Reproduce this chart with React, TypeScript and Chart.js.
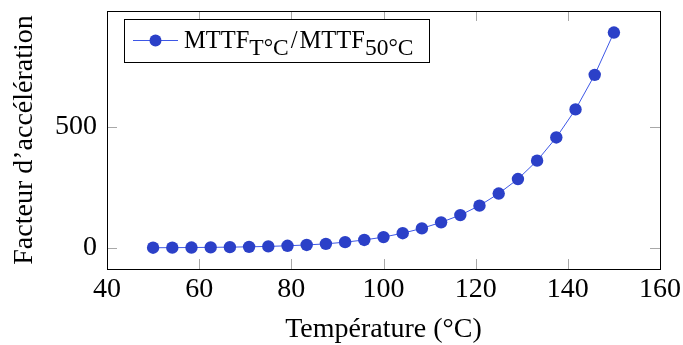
import { useEffect, useRef } from "react";
import { Chart, registerables } from "chart.js";

Chart.register(...registerables);

// ---- data ----
const temperatures = [
  50, 54.17, 58.33, 62.5, 66.67, 70.83, 75, 79.17, 83.33, 87.5, 91.67, 95.83,
  100, 104.17, 108.33, 112.5, 116.67, 120.83, 125, 129.17, 133.33, 137.5,
  141.67, 145.83, 150,
];
const accelFactor = [
  1, 1.3, 1.8, 2.5, 3.4, 4.7, 6.5, 9, 12.5, 17, 24, 33, 45, 61, 81, 106, 136,
  175, 225, 285, 361, 457, 573, 716, 891,
];
const xTicks = [40, 60, 80, 100, 120, 140, 160];
const yTicks = [0, 500];
const xTitle = "Température (°C)";
const yTitle = "Facteur d’accélération";
const legendParts = [
  { text: "MTTF", sub: false, gap: 0 },
  { text: "T°C", sub: true, gap: 2 },
  { text: "/", sub: false, gap: 2 },
  { text: "MTTF", sub: false, gap: 0 },
  { text: "50°C", sub: true, gap: 0 },
];

const FONT = "'Liberation Serif', 'Times New Roman', serif";
const LINE_COLOR = "#3d57e6";
const POINT_COLOR = "#2b40c8";
const TICK_COLOR = "#a8a8a8";

const framePlugin = {
  id: "pgfFrame",
  beforeDatasetsDraw(chart: any) {
    const { ctx, chartArea: a, scales } = chart;
    ctx.save();
    ctx.strokeStyle = TICK_COLOR;
    ctx.lineWidth = 1;
    const len = 10;
    scales.x.ticks.forEach((t: any) => {
      const px = Math.round(scales.x.getPixelForValue(t.value)) + 0.5;
      ctx.beginPath();
      ctx.moveTo(px, a.bottom);
      ctx.lineTo(px, a.bottom - len);
      ctx.moveTo(px, a.top);
      ctx.lineTo(px, a.top + len);
      ctx.stroke();
    });
    scales.y.ticks.forEach((t: any) => {
      const py = Math.round(scales.y.getPixelForValue(t.value)) + 0.5;
      ctx.beginPath();
      ctx.moveTo(a.left, py);
      ctx.lineTo(a.left + len, py);
      ctx.moveTo(a.right, py);
      ctx.lineTo(a.right - len, py);
      ctx.stroke();
    });
    ctx.strokeStyle = "#000";
    ctx.strokeRect(
      Math.round(a.left) + 0.5,
      Math.round(a.top) + 0.5,
      Math.round(a.right - a.left),
      Math.round(a.bottom - a.top)
    );
    ctx.restore();
  },
  afterDraw(chart: any) {
    const { ctx, chartArea: a } = chart;
    const bx = Math.round(a.left) + 17;
    const by = Math.round(a.top) + 8;
    const bw = 305;
    const bh = 43;
    ctx.save();
    ctx.fillStyle = "#fff";
    ctx.fillRect(bx, by, bw, bh);
    ctx.strokeStyle = "#000";
    ctx.lineWidth = 1;
    ctx.strokeRect(bx + 0.5, by + 0.5, bw, bh);
    const cy = by + 21.5;
    ctx.strokeStyle = LINE_COLOR;
    ctx.beginPath();
    ctx.moveTo(bx + 9, cy);
    ctx.lineTo(bx + 54, cy);
    ctx.stroke();
    ctx.fillStyle = POINT_COLOR;
    ctx.beginPath();
    ctx.arc(bx + 31.5, cy, 6, 0, Math.PI * 2);
    ctx.fill();
    let x = bx + 60;
    const baseline = by + 29;
    ctx.fillStyle = "#000";
    ctx.textBaseline = "alphabetic";
    ctx.textAlign = "left";
    legendParts.forEach((p) => {
      ctx.font = p.sub ? `23.5px ${FONT}` : `24.5px ${FONT}`;
      ctx.fillText(p.text, x, p.sub ? baseline + 7 : baseline);
      x += ctx.measureText(p.text).width + p.gap;
    });
    ctx.restore();
  },
};

export default function App() {
  const ref = useRef<HTMLCanvasElement | null>(null);
  useEffect(() => {
    if (!ref.current) return;
    const chart = new Chart(ref.current, {
      type: "line",
      data: {
        datasets: [
          {
            label: "MTTF",
            data: temperatures.map((t, i) => ({ x: t, y: accelFactor[i] })),
            borderColor: LINE_COLOR,
            borderWidth: 1,
            backgroundColor: POINT_COLOR,
            pointBackgroundColor: POINT_COLOR,
            pointBorderColor: POINT_COLOR,
            pointBorderWidth: 0,
            pointRadius: 6.2,
            tension: 0,
          },
        ],
      },
      options: {
        animation: false,
        responsive: false,
        devicePixelRatio: 1,
        layout: { padding: { left: 0, right: 23, top: 11, bottom: 0 } },
        plugins: { legend: { display: false }, tooltip: { enabled: false } },
        scales: {
          x: {
            type: "linear",
            min: 40,
            max: 160,
            afterBuildTicks: (s: any) => {
              s.ticks = xTicks.map((v) => ({ value: v }));
            },
            afterFit: (s: any) => {
              s.height = 76;
              s.paddingLeft = 0;
              s.paddingRight = 0;
            },
            grid: { display: false, drawTicks: false },
            border: { display: false },
            ticks: {
              color: "#000",
              padding: 4,
              maxRotation: 0,
              font: { family: FONT, size: 28, lineHeight: 1.2 },
            },
            title: {
              display: true,
              text: xTitle,
              color: "#000",
              font: { family: FONT, size: 28, lineHeight: 1.1 },
              padding: { top: 1, bottom: 0 },
            },
          },
          y: {
            type: "linear",
            min: -87,
            max: 980,
            afterBuildTicks: (s: any) => {
              s.ticks = yTicks.map((v) => ({ value: v }));
            },
            afterFit: (s: any) => {
              s.width = 107;
              s.paddingTop = 0;
              s.paddingBottom = 0;
            },
            grid: { display: false, drawTicks: false },
            border: { display: false },
            ticks: {
              color: "#000",
              padding: 10,
              font: { family: FONT, size: 28 },
            },
            title: {
              display: true,
              text: yTitle,
              color: "#000",
              font: { family: FONT, size: 28, lineHeight: 1.2 },
              padding: { top: 8, bottom: 0 },
            },
          },
        },
      },
      plugins: [framePlugin],
    });
    return () => chart.destroy();
  }, []);
  return (
    <canvas
      ref={ref}
      width={683}
      height={345}
      style={{ position: "absolute", left: 0, top: 0, width: 683, height: 345 }}
    />
  );
}
